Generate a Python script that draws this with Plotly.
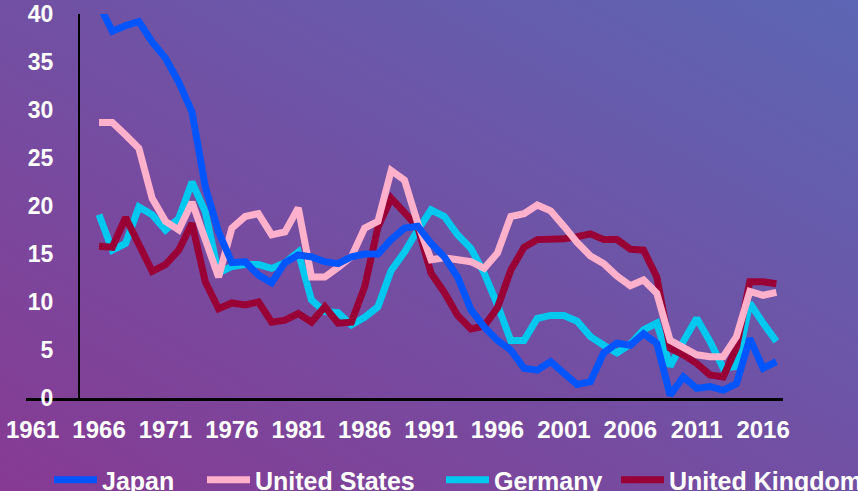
import base64
import plotly.graph_objects as go

# Annual values, 1966-2017
years = list(range(1966, 2018))

japan = [41.0, 38.2, 38.8, 39.2, 37.1, 35.4, 32.9, 29.8, 22.0, 17.3,
         14.1, 14.2, 12.8, 12.0, 14.1, 14.9, 14.7, 14.2, 14.0, 14.7,
         15.0, 15.0, 16.5, 17.7, 17.9, 16.1, 14.7, 12.6, 9.2, 7.4,
         6.0, 5.0, 3.1, 2.9, 3.8, 2.7, 1.4, 1.7, 4.7, 5.7,
         5.5, 6.7, 5.7, 0.3, 2.2, 1.0, 1.2, 0.8, 1.5, 6.2,
         3.1, 3.8]

united_states = [28.7, 28.7, 27.4, 26.0, 20.8, 18.4, 17.5, 20.4, 16.5, 12.6,
                 17.7, 18.9, 19.2, 17.0, 17.3, 19.8, 12.6, 12.6, 13.6, 14.7,
                 17.7, 18.4, 23.7, 22.7, 18.2, 14.4, 14.6, 14.4, 14.2, 13.5,
                 15.1, 18.9, 19.2, 20.1, 19.5, 17.9, 16.2, 14.8, 14.0, 12.7,
                 11.7, 12.3, 10.9, 6.0, 5.3, 4.5, 4.3, 4.3, 6.4, 11.1,
                 10.7, 11.0]

germany = [19.1, 15.4, 16.1, 19.9, 19.1, 17.5, 18.7, 22.5, 19.4, 13.0,
           13.7, 13.9, 13.9, 13.5, 14.1, 15.2, 10.2, 9.0, 8.9, 7.6,
           8.4, 9.5, 13.3, 15.2, 17.5, 19.6, 18.9, 17.0, 15.6, 13.0,
           9.7, 6.0, 6.0, 8.3, 8.6, 8.6, 8.0, 6.4, 5.5, 4.7,
           5.6, 7.1, 7.8, 3.3, 5.9, 8.3, 5.9, 3.1, 3.3, 9.9,
           7.8, 5.9]

united_kingdom = [15.8, 15.7, 18.8, 16.1, 13.2, 13.9, 15.4, 18.2, 12.1, 9.3,
                  9.9, 9.7, 10.0, 7.9, 8.1, 8.8, 7.9, 9.5, 7.8, 7.9,
                  11.6, 17.8, 20.8, 19.3, 17.8, 13.0, 11.0, 8.6, 7.2, 7.5,
                  9.4, 13.3, 15.7, 16.5, 16.5, 16.6, 16.8, 17.1, 16.5, 16.5,
                  15.5, 15.4, 12.6, 5.2, 4.5, 3.6, 2.4, 2.2, 5.3, 12.1,
                  12.1, 11.9]

x_tick_years = list(range(1961, 2017, 5))
y_ticks = [0, 5, 10, 15, 20, 25, 30, 35, 40]

W, H = 858, 491
FONT = "Arial, Liberation Sans, sans-serif"

# Series drawn back-to-front; each one gets its own legend box so the
# entries can sit at fixed positions along the bottom edge.
series = [
    ("Germany", germany, "#00c8ee", "legend3", 441),
    ("United Kingdom", united_kingdom, "#990036", "legend4", 616),
    ("United States", united_states, "#ffb0cb", "legend2", 202),
    ("Japan", japan, "#0055ff", "legend", 49),
]

fig = go.Figure()
for name, vals, color, legend_id, _ in series:
    fig.add_trace(go.Scatter(
        x=years, y=vals, name=name, mode="lines",
        line=dict(color=color, width=7),
        legend=legend_id,
    ))

# Diagonal purple gradient backdrop
svg = (
    f'<svg xmlns="http://www.w3.org/2000/svg" width="{W}" height="{H}" '
    f'viewBox="0 0 {W} {H}" preserveAspectRatio="none">'
    '<defs><linearGradient id="g" x1="0" y1="1" x2="1" y2="0">'
    '<stop offset="0" stop-color="#873a93"/>'
    '<stop offset="1" stop-color="#5c66b4"/>'
    '</linearGradient></defs>'
    f'<rect width="{W}" height="{H}" fill="url(#g)"/></svg>'
)
bg_uri = "data:image/svg+xml;base64," + base64.b64encode(svg.encode()).decode()

tick_font = dict(family=FONT, color="white", weight="bold")

legend_boxes = {}
for _, _, _, legend_id, left_px in series:
    legend_boxes[legend_id] = dict(
        orientation="h",
        x=left_px / W, xanchor="left",
        y=11 / H, yanchor="middle",
        bgcolor="rgba(0,0,0,0)",
        font=dict(size=25, family=FONT, color="white", weight="bold"),
        itemwidth=43,
    )

fig.update_layout(
    width=W, height=H, autosize=False,
    margin=dict(l=0, r=0, t=0, b=0, autoexpand=False),
    paper_bgcolor="#7150a4",
    plot_bgcolor="rgba(0,0,0,0)",
    images=[dict(source=bg_uri, xref="paper", yref="paper", x=0, y=1,
                 sizex=1, sizey=1, sizing="stretch", layer="below",
                 xanchor="left", yanchor="top")],
    xaxis=dict(
        domain=[26 / W, 783 / W],
        range=[1960.5, 2017.5],
        tickvals=x_tick_years,
        ticktext=[str(v) for v in x_tick_years],
        showline=True, linecolor="black", linewidth=3,
        showgrid=False, zeroline=False, ticks="",
        tickfont=dict(size=24, **tick_font),
        ticklabelstandoff=8,
        automargin=False,
    ),
    yaxis=dict(
        domain=[(H - 398) / H, (H - 14) / H],
        range=[0, 40],
        tickvals=y_ticks,
        anchor="free", position=79 / W,
        showline=True, linecolor="black", linewidth=2,
        showgrid=False, zeroline=False, ticks="",
        tickfont=dict(size=23, **tick_font),
        ticklabelstandoff=20,
        automargin=False,
    ),
    showlegend=True,
    **legend_boxes,
)

fig.write_html("out.html")
